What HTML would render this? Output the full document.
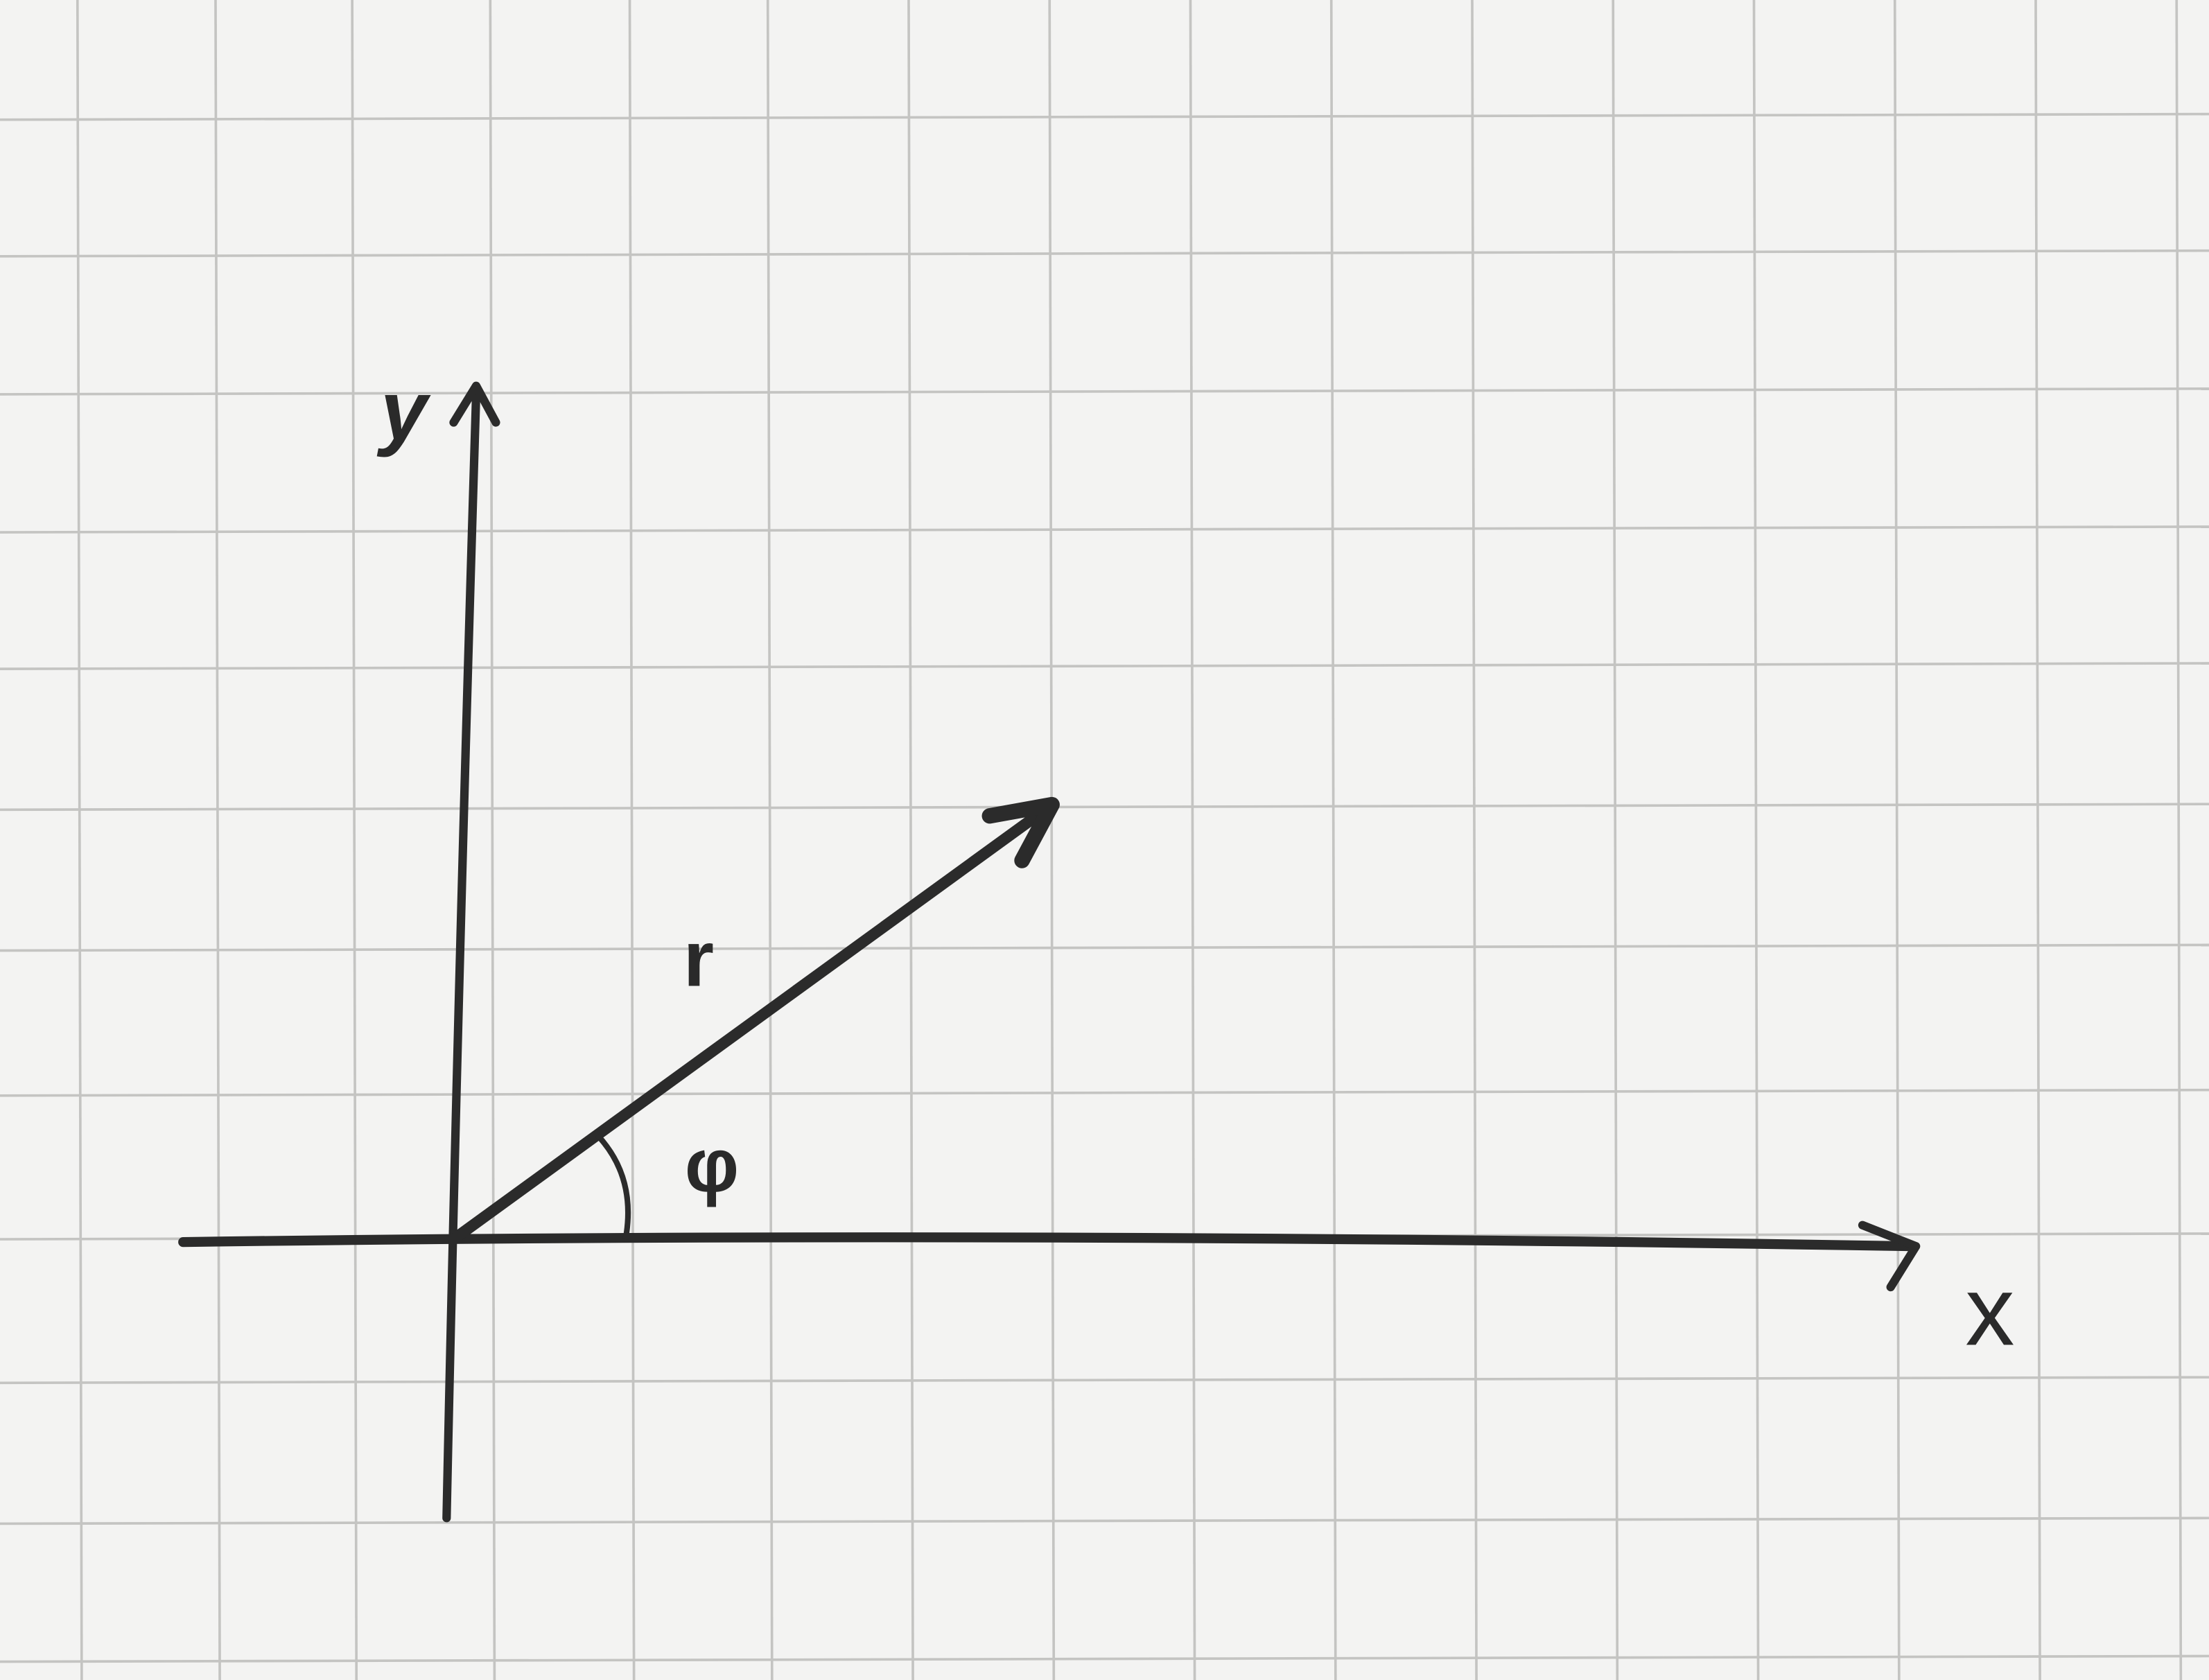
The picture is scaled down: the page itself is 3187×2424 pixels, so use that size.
<!DOCTYPE html>
<html>
<head>
<meta charset="utf-8">
<style>
  html,body{margin:0;padding:0;background:#f3f3f2;}
  svg{display:block;}
  text{font-family:"Liberation Sans",sans-serif;fill:#2a2a2a;}
</style>
</head>
<body>
<svg id="chart" width="3187" height="2424" viewBox="0 0 1568 1193" preserveAspectRatio="none" xmlns="http://www.w3.org/2000/svg">
  <rect x="0" y="0" width="1568" height="1193" fill="#f3f3f2"/>
  <g id="grid"></g>
  <g id="axes">
    <path d="M130 882 Q700 874 1358 885" stroke="#2b2b2b" stroke-width="7" fill="none" stroke-linecap="round"/>
    <path d="M1322 870 L1360 885 L1342 914" stroke="#2b2b2b" stroke-width="6" fill="none" stroke-linecap="round" stroke-linejoin="round"/>
    <path d="M317 1078 Q325 700 338 280" stroke="#2b2b2b" stroke-width="6" fill="none" stroke-linecap="round"/>
    <path d="M322 300 L338 274 L352 300" stroke="#2b2b2b" stroke-width="6" fill="none" stroke-linecap="round" stroke-linejoin="round"/>
  </g>
  <g id="vec"></g>
  <path d="M424 806 Q452 836 444 880" stroke="#2b2b2b" stroke-width="4" fill="none"/>
  <text x="270" y="312" font-size="60" font-weight="bold" font-style="italic" fill="#3a3a3a">y</text>
  <text x="1395" y="955" font-size="70">x</text>
  <text x="485" y="700" font-size="56" font-weight="bold">r</text>
  <text x="486" y="846" font-size="54" font-weight="bold">φ</text>
</svg>
<script>
const gridXs = [55,153,250,348,447,545,645,745,845,945,1045,1145,1245,1345,1445,1545];
const gridYs = [85,182,280,378,475,575,675,778,880,982,1082,1180];
const vectorR = [525];
const vectorPhiDeg = [36];
const originX = 322, originY = 880;
function px(dx){return originX + dx;}
function py(dy){return originY - dy;}
const NS = "http://www.w3.org/2000/svg";
const grid = document.getElementById('grid');
gridXs.forEach(function(x){
  const l = document.createElementNS(NS,'line');
  l.setAttribute('x1',x);l.setAttribute('x2',x+3);l.setAttribute('y1',0);l.setAttribute('y2',1193);
  l.setAttribute('stroke','#c4c4c2');l.setAttribute('stroke-width','1.8');
  
  
  grid.appendChild(l);
});
gridYs.forEach(function(y){
  const l = document.createElementNS(NS,'line');
  l.setAttribute('x1',0);l.setAttribute('x2',1568);l.setAttribute('y1',y);l.setAttribute('y2',y-4);
  l.setAttribute('stroke','#c4c4c2');l.setAttribute('stroke-width','1.8');
  
  
  grid.appendChild(l);
});
const vec = document.getElementById('vec');
vectorR.forEach(function(r,i){
  const a = vectorPhiDeg[i]*Math.PI/180;
  const tx = px(r*Math.cos(a)), ty = py(r*Math.sin(a));
  const line = document.createElementNS(NS,'line');
  line.setAttribute('x1',originX);line.setAttribute('y1',originY);
  line.setAttribute('x2',tx);line.setAttribute('y2',ty);
  line.setAttribute('stroke','#2b2b2b');line.setAttribute('stroke-width','8');line.setAttribute('stroke-linecap','round');
  
  
  vec.appendChild(line);
  const h = 45, w = 0.45;
  const p1x = tx - h*Math.cos(a - w), p1y = ty + h*Math.sin(a - w);
  const p2x = tx - h*Math.cos(a + w), p2y = ty + h*Math.sin(a + w);
  const head = document.createElementNS(NS,'path');
  head.setAttribute('d','M'+p2x+' '+p2y+' L'+tx+' '+ty+' L'+p1x+' '+p1y);
  head.setAttribute('stroke','#2b2b2b');head.setAttribute('stroke-width','11');head.setAttribute('fill','none');
  head.setAttribute('stroke-linecap','round');head.setAttribute('stroke-linejoin','round');
  
  
  vec.appendChild(head);
});
</script>
</body>
</html>
